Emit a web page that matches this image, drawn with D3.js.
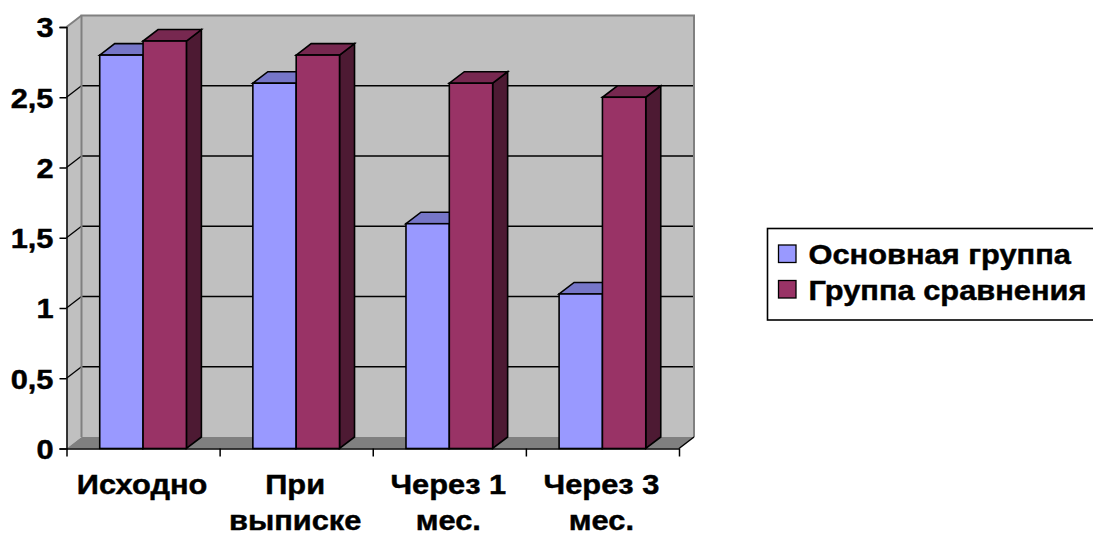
<!DOCTYPE html>
<html>
<head>
<meta charset="utf-8">
<script src="https://cdn.jsdelivr.net/npm/d3@7"></script>
<style>
  html, body { margin: 0; padding: 0; background: #ffffff; }
  svg { display: block; }
  text { font-family: "Liberation Sans", Arial, sans-serif; font-weight: bold; fill: #000; stroke: #000; stroke-width: 0.45px; }
</style>
</head>
<body>
<svg id="chart" width="1093" height="535"></svg>
<script>
// Periods of observation
const categories = ["Исходно", "При\nвыписке", "Через 1\nмес.", "Через 3\nмес."];
// Series names
const seriesNames = ["Основная группа", "Группа сравнения"];
// Values per period
const mainGroup = [2.8, 2.6, 1.6, 1.1];
const compareGroup = [2.9, 2.8, 2.6, 2.5];
// Value axis ticks
const yTickValues = [0, 0.5, 1, 1.5, 2, 2.5, 3];

const seriesValues = [mainGroup, compareGroup];
const colors = [
  { front: "#9999ff", top: "#7676c8", side: "#5f5fa6" },
  { front: "#993366", top: "#772850", side: "#4d1a33" }
];

const svg = d3.select("#chart");

// 3-D depth offset of the plot box
const DX = 15, DY = -11.5;
const x0 = 66.5, x1 = 679, yBottom = 448.5, yTop = 27;
const FS = 28, STRETCH = 1.1;

const y = d3.scaleLinear().domain([0, 3]).range([yBottom, yTop]);
const x = d3.scaleBand().domain(d3.range(categories.length)).range([x0, x1])
  .paddingInner(0.434).paddingOuter(0.217);
const xs = d3.scaleBand().domain(d3.range(seriesNames.length)).range([0, x.bandwidth()]);
const xIdx = d3.scaleLinear().domain([0, categories.length]).range([x0, x1]);

const ru = d3.formatLocale({ decimal: ",", thousands: "\u00a0", grouping: [3], currency: ["", ""] });
const fmt = ru.format("~g");

const poly = pts => pts.map(p => p.join(",")).join(" ");

const g = svg.append("g");

// Back wall
g.append("rect")
  .attr("x", x0 + DX).attr("y", yTop + DY)
  .attr("width", x1 - x0).attr("height", yBottom - yTop)
  .attr("fill", "#c0c0c0");
// Side wall
g.append("polygon")
  .attr("points", poly([[x0, yBottom], [x0, yTop], [x0 + DX, yTop + DY], [x0 + DX, yBottom + DY]]))
  .attr("fill", "#c0c0c0");
// Floor
g.append("polygon")
  .attr("points", poly([[x0, yBottom], [x1, yBottom], [x1 + DX, yBottom + DY], [x0 + DX, yBottom + DY]]))
  .attr("fill", "#808080");

// Gridlines on back wall and side wall
const grid = yTickValues.filter(v => v > 0 && v < 3);
g.selectAll("line.hgrid").data(grid).join("line")
  .attr("class", "hgrid")
  .attr("x1", x0 + DX).attr("x2", x1 + DX)
  .attr("y1", d => y(d) + DY).attr("y2", d => y(d) + DY)
  .attr("stroke", "#000").attr("stroke-width", 1.3);
g.selectAll("line.dgrid").data(grid).join("line")
  .attr("class", "dgrid")
  .attr("x1", x0).attr("x2", x0 + DX)
  .attr("y1", d => y(d)).attr("y2", d => y(d) + DY)
  .attr("stroke", "#000").attr("stroke-width", 1.3);

// Wall outlines
g.append("path")
  .attr("d", `M${x0 + DX},${yBottom + DY}V${yTop + DY}H${x1 + DX}V${yBottom + DY}`)
  .attr("fill", "none").attr("stroke", "#808080").attr("stroke-width", 2);
g.append("line")
  .attr("x1", x0).attr("y1", yTop).attr("x2", x0 + DX).attr("y2", yTop + DY)
  .attr("stroke", "#808080").attr("stroke-width", 2);

// Bars
const barData = [];
categories.forEach((c, i) => {
  seriesValues.forEach((vals, s) => barData.push({ i, s, v: vals[i] }));
});
const bars = g.selectAll("g.bar").data(barData).join("g").attr("class", "bar");
bars.each(function (d) {
  const sel = d3.select(this);
  const bx = x(d.i) + xs(d.s), bw = xs.bandwidth();
  const ty = y(d.v), by = y(0);
  const st = { stroke: "#000", "stroke-width": 1.6, "stroke-linejoin": "miter" };
  const side = sel.append("polygon")
    .attr("points", poly([[bx + bw, by], [bx + bw, ty], [bx + bw + DX, ty + DY], [bx + bw + DX, by + DY]]))
    .attr("fill", colors[d.s].side);
  const top = sel.append("polygon")
    .attr("points", poly([[bx, ty], [bx + bw, ty], [bx + bw + DX, ty + DY], [bx + DX, ty + DY]]))
    .attr("fill", colors[d.s].top);
  const front = sel.append("rect")
    .attr("x", bx).attr("y", ty).attr("width", bw).attr("height", by - ty)
    .attr("fill", colors[d.s].front);
  [side, top, front].forEach(e => Object.entries(st).forEach(([k, v]) => e.attr(k, v)));
});

// Value axis
const yAxis = d3.axisLeft(y).tickValues(yTickValues).tickFormat(fmt).tickSize(7).tickPadding(6);
const ya = svg.append("g").attr("transform", `translate(${x0},0)`).call(yAxis);
ya.select(".domain").attr("stroke", "#000").attr("stroke-width", 1.5);
ya.selectAll(".tick line").attr("stroke", "#000").attr("stroke-width", 1.5);
ya.selectAll(".tick text")
  .attr("font-size", FS).attr("font-family", "Liberation Sans, Arial, sans-serif")
  .attr("font-weight", "bold").attr("fill", "#000").attr("dy", "0.35em");

// Category axis: boundary ticks
const xAxis = d3.axisBottom(xIdx).tickValues(d3.range(categories.length + 1)).tickFormat("").tickSize(8).tickSizeOuter(0);
const xa = svg.append("g").attr("transform", `translate(0,${yBottom})`).call(xAxis);
xa.select(".domain").attr("stroke", "#000").attr("stroke-width", 1.5);
xa.selectAll(".tick line").attr("stroke", "#000").attr("stroke-width", 1.5);
svg.append("line")
  .attr("x1", x1).attr("y1", yBottom).attr("x2", x1 + DX).attr("y2", yBottom + DY)
  .attr("stroke", "#000").attr("stroke-width", 1.5);

// Category labels
const lab = svg.append("g").selectAll("text").data(categories).join("text")
  .attr("x", (d, i) => x(i) + x.bandwidth() / 2 - 1)
  .attr("y", yBottom + 45)
  .attr("text-anchor", "middle")
  .attr("font-size", FS);
lab.each(function (d) {
  const t = d3.select(this);
  d.split("\n").forEach((line, k) => {
    t.append("tspan").attr("x", t.attr("x")).attr("dy", k === 0 ? 0 : 36).text(line);
  });
});

// Legend
const lg = svg.append("g").attr("transform", "translate(767.5,228.5)");
lg.append("rect").attr("x", 0).attr("y", 0).attr("width", 340).attr("height", 91.5)
  .attr("fill", "#fff").attr("stroke", "#000").attr("stroke-width", 1.6);
seriesNames.forEach((name, k) => {
  const row = lg.append("g").attr("transform", `translate(0,${k * 35.5})`);
  row.append("rect").attr("x", 11).attr("y", 16.5).attr("width", 17.5).attr("height", 17.5)
    .attr("fill", colors[k].front).attr("stroke", "#000").attr("stroke-width", 1.3);
  row.append("text").attr("x", 41).attr("y", 35.5).attr("font-size", FS).text(name);
});

// Slight horizontal widening of labels
function widen(node) {
  const w = node.getComputedTextLength();
  d3.select(node).attr("textLength", w * STRETCH).attr("lengthAdjust", "spacingAndGlyphs");
}
svg.selectAll("text").each(function () {
  const spans = this.querySelectorAll("tspan");
  if (spans.length) spans.forEach(widen);
  else widen(this);
});
</script>
</body>
</html>
